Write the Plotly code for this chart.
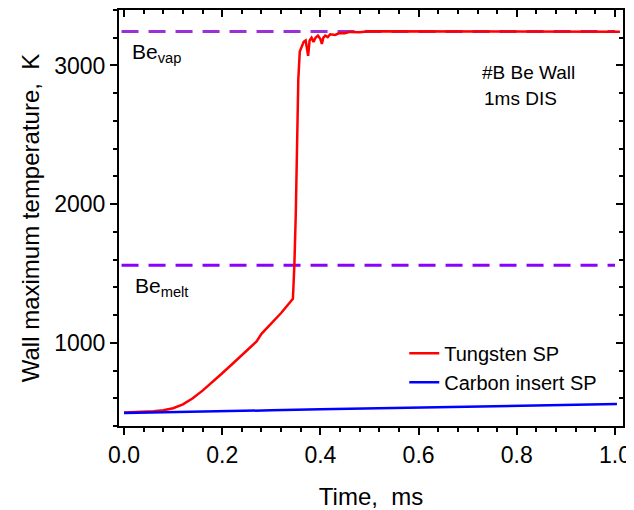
import plotly.graph_objects as go

# ---- data ----
t_red = [0.0, 0.03, 0.06, 0.08, 0.10, 0.12, 0.14, 0.16, 0.18, 0.20, 0.22, 0.24, 0.26, 0.27, 0.28,
         0.30, 0.32, 0.344, 0.347, 0.350, 0.352, 0.355, 0.358, 0.362, 0.366, 0.370, 0.373, 0.375,
         0.378, 0.382, 0.386, 0.390, 0.395, 0.400, 0.403, 0.406, 0.410, 0.415, 0.420, 0.430,
         0.440, 0.450, 0.460, 0.480, 0.500, 0.600, 0.700, 0.800, 0.900, 1.000, 1.010]
T_red = [497, 500, 506, 513, 528, 556, 600, 655, 715, 780, 845, 910, 975, 1010, 1065,
         1140, 1215, 1318, 1560, 1950, 2350, 2900, 3100, 3140, 3170, 3180, 3110, 3070,
         3180, 3200, 3170, 3200, 3215, 3190, 3155, 3200, 3215, 3205, 3225, 3220,
         3235, 3232, 3242, 3240, 3246, 3246, 3246, 3246, 3246, 3245, 3243]

t_blue = [0.0, 0.1, 0.2, 0.3, 0.4, 0.5, 0.6, 0.7, 0.8, 0.9, 1.004]
T_blue = [494, 499, 506, 513, 520, 526, 533, 539, 546, 552, 558]

t_ref = [-0.005, 1.0]
T_vap = [3245, 3245]
T_melt = [1560, 1560]

series_names = ["Tungsten SP", "Carbon insert SP"]

FONT = "Arial, 'Liberation Sans', sans-serif"

fig = go.Figure()
fig.add_trace(go.Scatter(x=t_ref, y=T_vap, mode="lines", showlegend=False, hoverinfo="skip",
                         line=dict(color="#9B30D8", width=3, dash="17px,10px")))
fig.add_trace(go.Scatter(x=t_ref, y=T_melt, mode="lines", showlegend=False, hoverinfo="skip",
                         line=dict(color="#8A00FF", width=3, dash="17px,10px")))
fig.add_trace(go.Scatter(x=t_red, y=T_red, mode="lines", name=series_names[0],
                         line=dict(color="#FF0000", width=2.5)))
fig.add_trace(go.Scatter(x=t_blue, y=T_blue, mode="lines", name=series_names[1],
                         line=dict(color="#0000FF", width=2.5)))
# invisible copy on the mirrored (top/right) axes so their inside ticks get drawn
fig.add_trace(go.Scatter(x=t_blue, y=T_blue, xaxis="x2", yaxis="y2", mode="lines", showlegend=False,
                         hoverinfo="skip", opacity=0, line=dict(width=0)))

xr = [-0.0102, 1.0163]
yr = [400, 3400]

common = dict(showline=True, linewidth=2, linecolor="black", showgrid=False, zeroline=False,
              tickwidth=2, tickcolor="black", automargin=False)

# the page body has an 8px margin, so the figure is sized/offset to compensate
fig.update_layout(
    width=626, height=502,
    margin=dict(l=111, r=11, t=2, b=84),
    paper_bgcolor="white", plot_bgcolor="white",
    font=dict(family=FONT, color="black"),
    xaxis=dict(range=xr, dtick=0.2, tick0=0, tickformat=".1f", ticks="outside", ticklen=7,
               ticklabeloverflow="allow",
               minor=dict(dtick=0.04, tick0=0, ticks="outside", ticklen=4, tickwidth=2, tickcolor="black"),
               tickfont=dict(size=23), title=dict(text="Time,\u00a0\u00a0ms", font=dict(size=24), standoff=24),
               **common),
    yaxis=dict(range=yr, dtick=1000, tick0=0, ticks="outside", ticklen=7,
               ticklabeloverflow="allow",
               minor=dict(dtick=200, tick0=0, ticks="outside", ticklen=4, tickwidth=2, tickcolor="black"),
               tickfont=dict(size=23),
               title=dict(text="Wall maximum temperature,\u00a0\u00a0K", font=dict(size=24), standoff=8),
               **common),
    xaxis2=dict(range=xr, overlaying="x", side="top", anchor="y", dtick=0.2, tick0=0,
                ticks="inside", ticklen=7, showticklabels=False,
                minor=dict(dtick=0.04, tick0=0, ticks="inside", ticklen=4, tickwidth=2, tickcolor="black"),
                **common),
    yaxis2=dict(range=yr, overlaying="y", side="right", anchor="x", dtick=1000, tick0=0,
                ticks="inside", ticklen=7, showticklabels=False,
                minor=dict(dtick=200, tick0=0, ticks="inside", ticklen=4, tickwidth=2, tickcolor="black"),
                **common),
    legend=dict(x=0.566, y=0.222, xanchor="left", yanchor="top", bgcolor="rgba(0,0,0,0)",
                font=dict(size=20), tracegroupgap=0, itemwidth=30),
    annotations=[
        dict(text="Be<sub>vap</sub>", x=0.012, y=3090, xref="x", yref="y", xanchor="left", yanchor="middle",
             showarrow=False, font=dict(size=21)),
        dict(text="Be<sub>melt</sub>", x=0.018, y=1400, xref="x", yref="y", xanchor="left", yanchor="middle",
             showarrow=False, font=dict(size=21)),
        dict(text="#B Be Wall", x=0.725, y=2950, xref="x", yref="y", xanchor="left", yanchor="middle",
             showarrow=False, font=dict(size=19)),
        dict(text="1ms DIS", x=0.73, y=2765, xref="x", yref="y", xanchor="left", yanchor="middle",
             showarrow=False, font=dict(size=19)),
    ],
)

fig.write_html("out.html")
